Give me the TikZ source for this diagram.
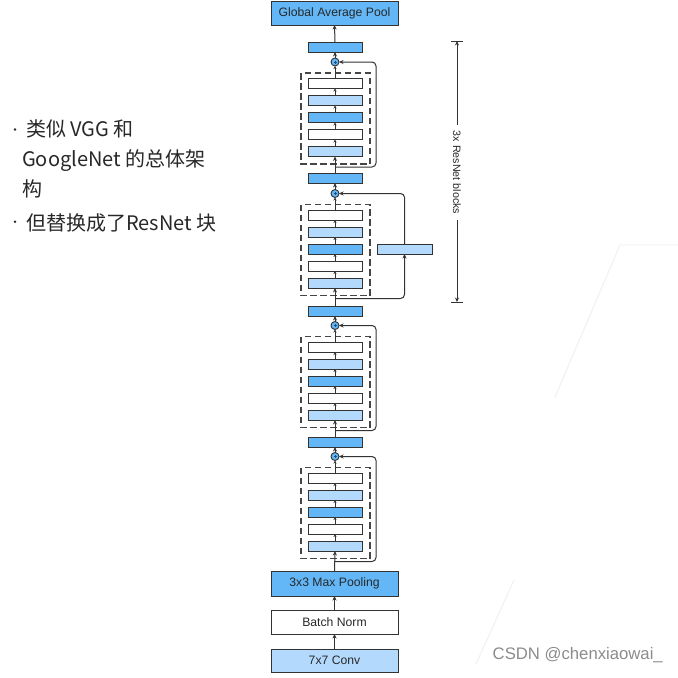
\documentclass[tikz,border=0pt]{standalone}
\usepackage{fontspec}
\setmainfont{Liberation Sans}
\newfontfamily\cjk{Noto Sans CJK SC}
\usetikzlibrary{arrows.meta,calc}
\definecolor{bblue}{RGB}{99,183,246}
\definecolor{lblue}{RGB}{179,218,253}
\definecolor{dblue}{RGB}{30,80,130}
\definecolor{linec}{RGB}{51,51,51}
\definecolor{dashc}{RGB}{70,70,70}
\definecolor{textc}{RGB}{40,40,40}
\definecolor{faint}{RGB}{238,238,238}
\tikzset{
  bx/.style={draw=linec, line width=1pt, inner sep=0pt, outer sep=0pt},
  bigbox/.style={bx, minimum width=127pt, minimum height=24pt, font=\fontsize{12.2pt}{14pt}\selectfont, text=textc},
  barb/.style={bx, minimum width=54pt, minimum height=10pt},
  addc/.style={circle, draw=linec, fill=bblue, line width=0.9pt, minimum size=8pt, inner sep=0pt, outer sep=0pt},
  arr/.style={draw=linec, line width=1pt, -{Stealth[length=4.5pt,width=4pt]}},
  sarr/.style={draw=linec, line width=0.9pt, -{Stealth[length=3pt,width=3pt]}},
  dbox/.style={draw=dashc, line width=1.2pt, dash pattern=on 6.5pt off 3.5pt},
  skip/.style={arr, rounded corners=4pt},
  cjktext/.style={anchor=base west, inner sep=0pt, font=\cjk\fontsize{20pt}{24pt}\selectfont, text=textc},
}
\newcommand\rblock[2]{%
  \node[addc] (#1c) at (335,#2) {};
  \draw[dblue, line width=0.6pt] (335-1.5,#2) -- (335+1.5,#2) (335,#2-1.5) -- (335,#2+1.5);
  \draw[dbox] (301,#2+11) rectangle (370,#2+102);
  \node[barb,fill=white] (#1a) at (335,#2+21.5) {};
  \node[barb,fill=lblue] (#1b) at (335,#2+38.5) {};
  \node[barb,fill=bblue] (#1m) at (335,#2+55.5) {};
  \node[barb,fill=white] (#1d) at (335,#2+72.5) {};
  \node[barb,fill=lblue] (#1e) at (335,#2+89.5) {};
  \draw[sarr] (#1e.north) -- (#1d.south);
  \draw[sarr] (#1d.north) -- (#1m.south);
  \draw[sarr] (#1m.north) -- (#1b.south);
  \draw[sarr] (#1b.north) -- (#1a.south);
  \draw[sarr] (#1a.north) -- (#1c.south);
  \coordinate (#1s) at (335,#2+105);
}
\begin{document}
\begin{tikzpicture}[x=1pt,y=-1pt]
\useasboundingbox (0,0) rectangle (678,678);
\fill[white] (0,0) rectangle (678,678);

% faint decorative lines
\draw[faint, line width=0.8pt] (678,245) -- (620,245) -- (555,397);
\draw[faint, line width=0.8pt] (514,580) -- (476,664);

% left text
\fill[textc] (15,129.5) circle (1.3);
\node[cjktext] (t1) at (26,136.7) {类似 VGG 和};
\node[cjktext] (t2) at (22,166.7) {GoogleNet 的总体架};
\node[cjktext] (t3) at (22,196) {构};
\fill[textc] (15,221.7) circle (1.3);
\node[cjktext] (t4) at (26,230) {但替换成了ResNet 块};

% stem
\node[bigbox, fill=lblue, minimum height=23pt] (conv) at (334.5,660.5) {7x7 Conv};
\node[bigbox, fill=white] (bn) at (334.5,622) {Batch Norm};
\node[bigbox, fill=bblue, minimum height=25pt] (mp) at (334.5,583.5) {3x3 Max Pooling};
\draw[arr] (conv.north) -- (bn.south);
\draw[arr] (bn.north) -- (mp.south);

% blocks
\rblock{k4}{456.5}
\rblock{k3}{325.5}
\rblock{k2}{193.5}
\rblock{k1}{62}

\node[barb,fill=bblue] (B3) at (335,442) {};
\node[barb,fill=bblue] (B2) at (335,311) {};
\node[barb,fill=bblue] (B1) at (335,178) {};
\node[barb,fill=bblue] (B0) at (335,47) {};

\node[bigbox, fill=bblue] (gap) at (334.5,13) {Global Average Pool};

% main line
\draw[arr] (mp.north) -- (k4e.south);
\draw[arr] (k4c.north) -- (B3.south);
\draw[arr] (B3.north) -- (k3e.south);
\draw[arr] (k3c.north) -- (B2.south);
\draw[arr] (B2.north) -- (k2e.south);
\draw[arr] (k2c.north) -- (B1.south);
\draw[arr] (B1.north) -- (k1e.south);
\draw[arr] (k1c.north) -- (B0.south);
\draw[arr] (B0.north) -- (gap.south);

% skip connections
\draw[skip] (k4s) -| (376,456.5) -- (k4c.east);
\draw[skip] (k3s) -| (376,325.5) -- (k3c.east);
\draw[skip] (k1s) -| (376,62) -- (k1c.east);
\node[bx, fill=lblue, minimum width=55pt, minimum height=10pt] (proj) at (404.5,249) {};
\draw[skip] (k2s) -| (proj.south);
\draw[skip] (proj.north) |- (k2c.east);

% dimension
\coordinate (dtop) at (457,41);
\coordinate (dbot) at (457,302);
\draw[linec, line width=1pt] ($(dtop)+(-6,0)$) -- ($(dtop)+(6,0)$);
\draw[linec, line width=1pt] ($(dbot)+(-6,0)$) -- ($(dbot)+(6,0)$);
\node[rotate=-90, inner sep=6pt, font=\fontsize{10.7pt}{12pt}\selectfont, text=textc] (dimt) at (457,172.5) {3x ResNet blocks};
\draw[arr] (dimt.west) -- (dtop);
\draw[arr] (dimt.east) -- (dbot);

% watermark
\node[anchor=base west, inner sep=0pt, font=\fontsize{16.7pt}{20pt}\selectfont, text=black!45] (wm) at (492.5,659) {CSDN @chenxiaowai\_};
\end{tikzpicture}
\end{document}
